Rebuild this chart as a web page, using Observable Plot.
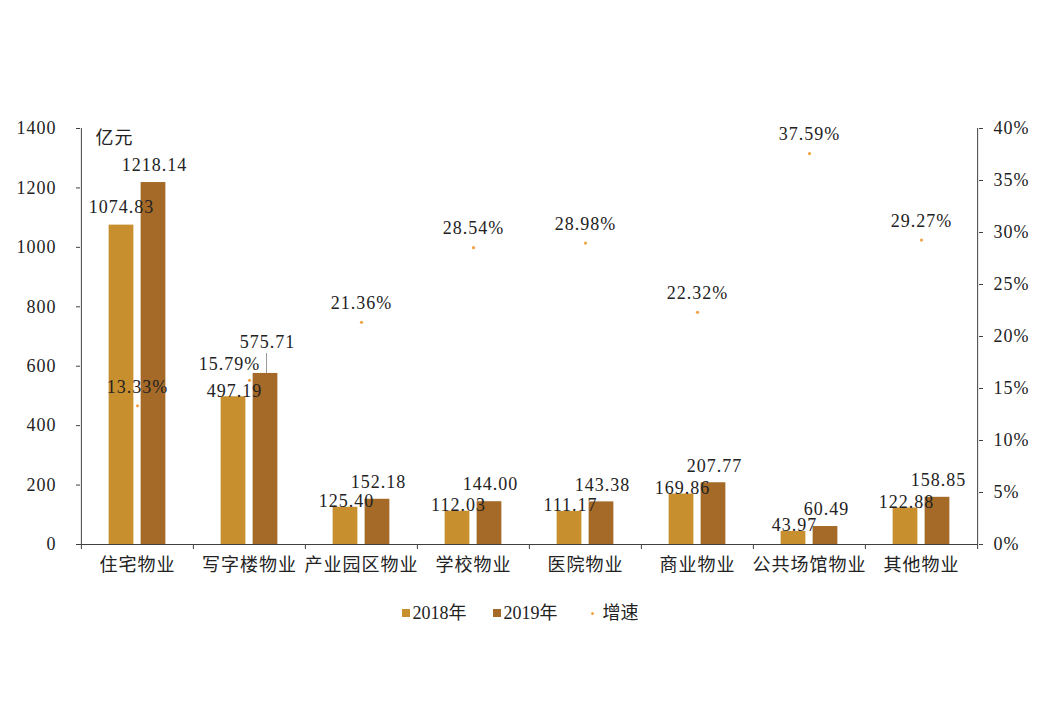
<!DOCTYPE html>
<html>
<head>
<meta charset="utf-8">
<script src="https://cdn.jsdelivr.net/npm/d3@7"></script>
<script src="https://cdn.jsdelivr.net/npm/@observablehq/plot@0.6"></script>
<style>
  body { margin: 0; background: #fff; }
  #wrap { position: relative; width: 1040px; height: 720px; font-family: "Liberation Serif", "Noto Sans CJK SC", serif; }
  #chart svg text { letter-spacing: 1px; }
  #legend { position: absolute; left: 0; top: 601px; width: 1040px; height: 24px; line-height: 24px;
            display: flex; justify-content: center; font-size: 18px; color: #222; padding-left: 0; box-sizing: border-box; }
  .item { display: flex; align-items: center; margin: 0 13px; }
  .item:last-child { margin-left: 20px; }
  .sw { width: 8px; height: 8px; margin-right: 3px; }
  .dot { width: 3px; height: 3px; border-radius: 50%; margin-right: 9px; }
</style>
</head>
<body>
<div id="wrap">
  <div id="chart"></div>
  <div id="legend"></div>
</div>
<script>
const categories = ["住宅物业", "写字楼物业", "产业园区物业", "学校物业", "医院物业", "商业物业", "公共场馆物业", "其他物业"];
const values2018 = [1074.83, 497.19, 125.40, 112.03, 111.17, 169.86, 43.97, 122.88];
const values2019 = [1218.14, 575.71, 152.18, 144.00, 143.38, 207.77, 60.49, 158.85];
const growthPct = [13.33, 15.79, 21.36, 28.54, 28.98, 22.32, 37.59, 29.27];
const leftTicks = [0, 200, 400, 600, 800, 1000, 1200, 1400];
const rightTicksPct = [0, 5, 10, 15, 20, 25, 30, 35, 40];
const seriesNames = ["2018年", "2019年", "增速"];

const c2018 = "#C88F2E", c2019 = "#A56A28", cGrowth = "#F2A444";
const axisColor = "#404040";
const font = "Liberation Serif, Noto Sans CJK SC, serif";

const yMax = leftTicks[leftTicks.length - 1];
const pctMax = rightTicksPct[rightTicksPct.length - 1];
const pctToY = p => p * yMax / pctMax;

const rows = categories.map((c, i) => ({
  category: c, v2018: values2018[i], v2019: values2019[i], growth: growthPct[i], idx: i
}));

const W = 1040, mL = 80, mR = 62;
const band = (W - mL - mR) / categories.length;
const inset = (band - 25) / 2;

const chart = Plot.plot({
  width: W,
  height: 590,
  marginLeft: mL,
  marginRight: mR,
  marginTop: 128,
  marginBottom: 46,
  style: { fontFamily: font, fontSize: "18px", color: "#222", background: "#fff", overflow: "visible" },
  x: { type: "band", domain: categories, padding: 0, label: null },
  y: { domain: [0, yMax], label: null },
  marks: [
    Plot.barY(rows, { x: "category", y: "v2018", dx: -16, insetLeft: inset, insetRight: inset, fill: c2018 }),
    Plot.barY(rows, { x: "category", y: "v2019", dx: 16, insetLeft: inset, insetRight: inset, fill: c2019 }),
    // axis lines
    Plot.ruleY([0], { stroke: axisColor, strokeWidth: 1 }),
    Plot.ruleX([categories[0]], { dx: -band / 2, stroke: axisColor }),
    Plot.ruleX([categories[categories.length - 1]], { dx: band / 2, stroke: axisColor }),
    // category boundary ticks
    Plot.ruleX(categories, { dx: -band / 2, y1: 0, y2: 0, insetBottom: -5, stroke: axisColor }),
    Plot.ruleX([categories[categories.length - 1]], { dx: band / 2, y1: 0, y2: 0, insetBottom: -5, stroke: axisColor }),
    Plot.axisY({ ticks: leftTicks, tickSize: 4, tickPadding: 20, stroke: axisColor, fontSize: 18, label: null, tickFormat: d => String(d) }),
    Plot.axisY({ anchor: "right", ticks: rightTicksPct.map(pctToY), tickSize: 4, tickPadding: 11, stroke: axisColor, fontSize: 18, label: null,
                 tickFormat: d => Math.round(d * pctMax / yMax) + "%" }),
    Plot.axisX({ tickSize: 0, tickPadding: 14, fontSize: 18, label: null }),
    Plot.text(["亿元"], { frameAnchor: "top-left", dx: 15, dy: 3, textAnchor: "start", fontSize: 18, fill: "#222" }),
    // growth dots
    Plot.dot(rows, { x: "category", y: d => pctToY(d.growth), r: 1.6, fill: cGrowth, stroke: null }),
    Plot.text(rows.filter(d => d.idx !== 1), { x: "category", y: d => pctToY(d.growth), dy: -19, text: d => d.growth.toFixed(2) + "%", fontSize: 18, fill: "#222" }),
    Plot.text(rows.filter(d => d.idx === 1), { x: "category", y: d => pctToY(d.growth), dx: -20, dy: -16, text: d => d.growth.toFixed(2) + "%", fontSize: 18, fill: "#222" }),
    // bar value labels
    Plot.text(rows.filter(d => d.idx === 0), { x: "category", y: "v2018", dx: -16, dy: -18, text: d => d.v2018.toFixed(2), fontSize: 18, fill: "#222" }),
    Plot.text(rows.filter(d => d.idx !== 0), { x: "category", y: "v2018", dx: -15, dy: -6, text: d => d.v2018.toFixed(2), fontSize: 18, fill: "#222" }),
    Plot.text(rows.filter(d => d.idx !== 1), { x: "category", y: "v2019", dx: 17, dy: -17, text: d => d.v2019.toFixed(2), fontSize: 18, fill: "#222" }),
    Plot.text(rows.filter(d => d.idx === 1), { x: "category", y: "v2019", dx: 18, dy: -31, text: d => d.v2019.toFixed(2), fontSize: 18, fill: "#222" }),
    Plot.ruleX(rows.filter(d => d.idx === 1), { x: "category", y1: "v2019", y2: "v2019", dx: 17, insetTop: -20, stroke: "#999", strokeWidth: 1 })
  ]
});
document.getElementById("chart").appendChild(chart);

const legend = document.getElementById("legend");
const swColors = [c2018, c2019, cGrowth];
seriesNames.forEach((name, i) => {
  const item = document.createElement("div");
  item.className = "item";
  const sw = document.createElement("span");
  sw.className = i < 2 ? "sw" : "dot";
  sw.style.background = swColors[i];
  item.appendChild(sw);
  const t = document.createElement("span");
  t.textContent = name;
  item.appendChild(t);
  legend.appendChild(item);
});
</script>
</body>
</html>
